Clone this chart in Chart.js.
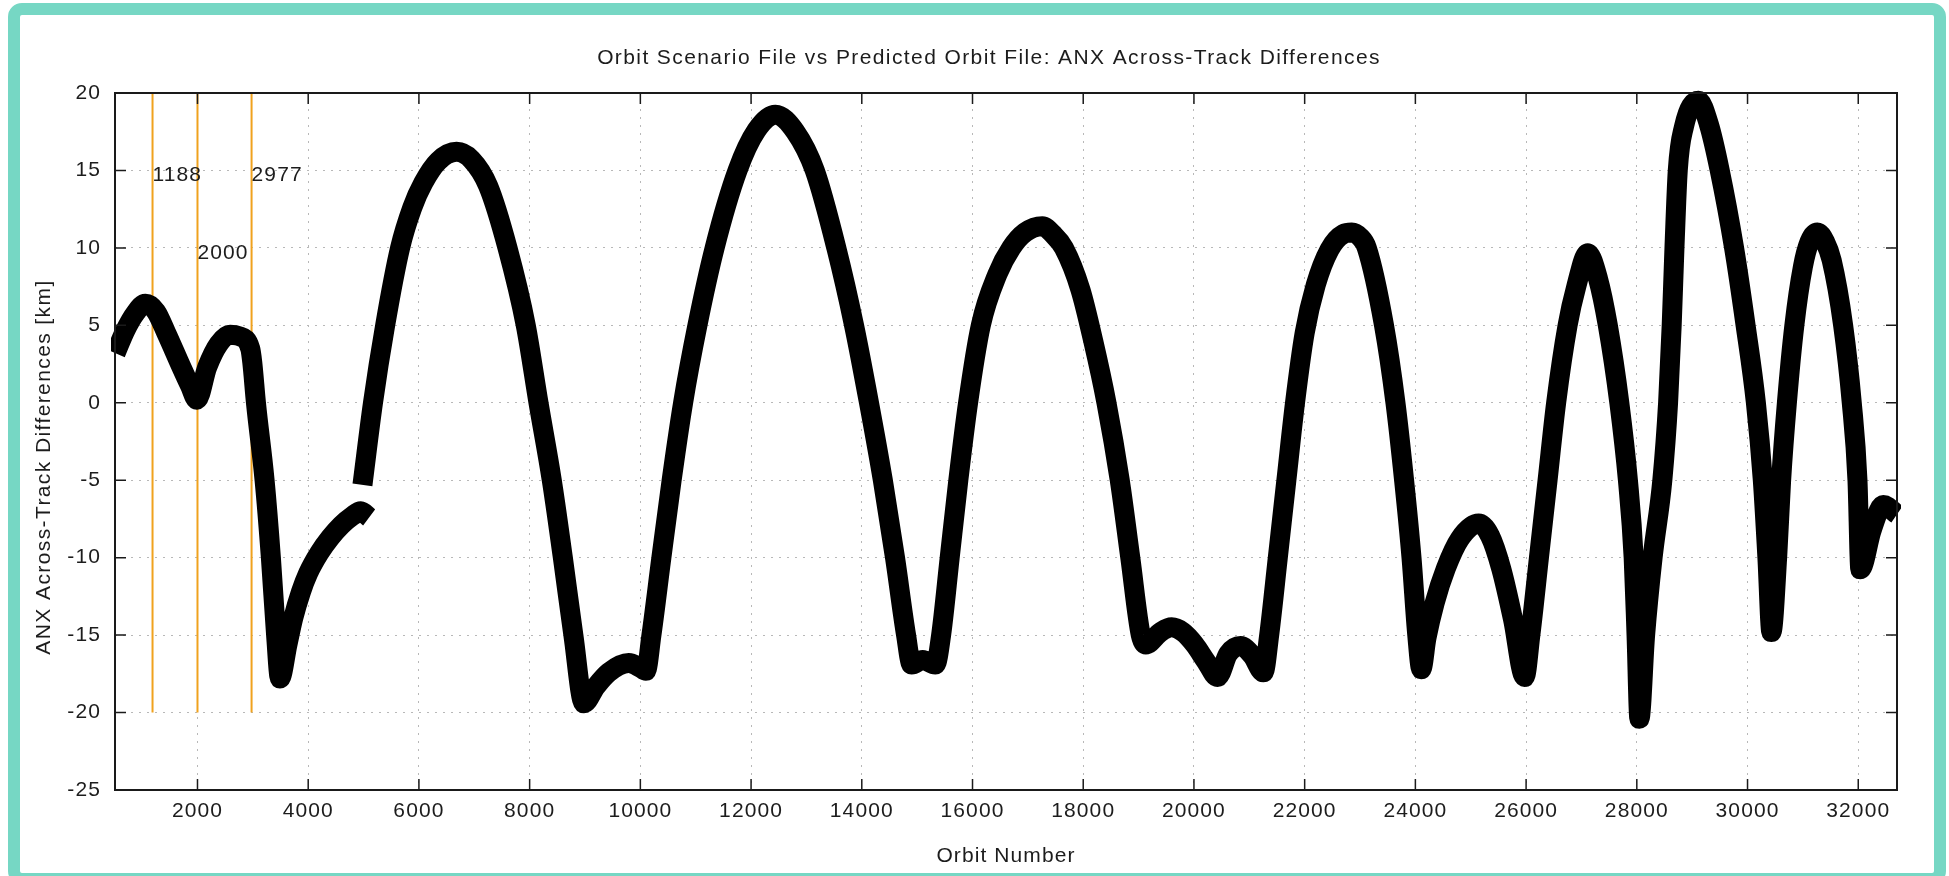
<!DOCTYPE html>
<html>
<head>
<meta charset="utf-8">
<script src="https://cdn.jsdelivr.net/npm/chart.js@4/dist/chart.umd.min.js"></script>
<style>
  html, body { margin: 0; padding: 0; background: #fff; overflow: hidden; }
  #wrap { position: relative; width: 1949px; height: 876px; }
  #frame { position: absolute; left: 8px; top: 3px; width: 1938px; height: 882px; box-sizing: border-box;
           border: 12px solid #76d7c4; border-radius: 14px; pointer-events: none; }
  canvas { position: absolute; left: 0; top: 0; }
</style>
</head>
<body>
<div id="wrap">
  <canvas id="orbit_chart" width="1949" height="876"></canvas>
  <div id="frame"></div>
</div>
<script>
// ===========================================================================
// data

const chartTitle = 'Orbit Scenario File vs Predicted Orbit File: ANX Across-Track Differences';
const xTitle = 'Orbit Number';
const yTitle = 'ANX Across-Track Differences [km]';

const xTickValues = [2000, 4000, 6000, 8000, 10000, 12000, 14000, 16000,
                     18000, 20000, 22000, 24000, 26000, 28000, 30000, 32000];
const yTickValues = [-25, -20, -15, -10, -5, 0, 5, 10, 15, 20];

// vertical markers and the height of their labels
const markerOrbits = [1188, 2000, 2977];
const markerLabelLevels = [15, 10, 15];

// first segment (up to the gap near orbit 5000)
const segAOrbit = [520, 700, 880, 1060, 1250, 1450, 1710, 1865, 1990, 2176, 2383, 2590, 2750,
                   2953, 2990, 3056, 3212, 3326, 3420, 3490, 3626, 3730, 3870, 4000, 4200, 4400,
                   4600, 4800, 4950, 5100];
const segADiff  = [3.2, 4.7, 5.8, 6.4, 5.9, 4.4, 2.3, 1.1, 0.2, 2.3, 3.8, 4.4, 4.3,
                   3.5, 2.6, 0.0, -5.0, -10.0, -15.0, -17.8, -15.6, -13.9, -12.2, -11.0, -9.7, -8.7,
                   -7.9, -7.3, -7.0, -7.4];

// second segment
const segBOrbit = [4980, 5170, 5390, 5660, 5880, 6080, 6350, 6680, 6950, 7250, 7600,
                   7930, 8160, 8400, 8600, 8790, 8980, 9200, 9430, 9790, 10000, 10100, 10200, 10380,
                   10565, 10772, 11031, 11342, 11756, 12100, 12440, 12800, 13150, 13540, 13860, 14130,
                   14380, 14600, 14800, 14900, 15100, 15329, 15433, 15588, 15744, 15920, 16150, 16450,
                   16700, 16950, 17260, 17450, 17650, 17950, 18180, 18420, 18660, 18850, 19040, 19130,
                   19400, 19597, 19800, 20011, 20219, 20426, 20620, 20841, 21050, 21256, 21359, 21515,
                   21670, 21826, 22000, 22200, 22450, 22700, 22850, 23000, 23122, 23433, 23640, 23796,
                   23930, 24034, 24107, 24200, 24350, 24550, 24800, 25144, 25350, 25550, 25765, 25973,
                   26077, 26232, 26388, 26543, 26750, 26906, 27113, 27300, 27476, 27684, 27839, 27943,
                   27995, 28047, 28150, 28285, 28461, 28565, 28630, 28680, 28740, 28850, 29115, 29300,
                   29498, 29757, 29965, 30151, 30276, 30359, 30431, 30535, 30607, 30711, 30846, 31001,
                   31120, 31261, 31400, 31520, 31727, 31883, 31986, 32038, 32245, 32453, 32700];
const segBDiff  = [-5.3, 0.0, 5.0, 10.0, 12.6, 14.2, 15.6, 16.2, 15.7, 14.0, 10.0,
                   5.0, 0.0, -5.0, -10.0, -15.0, -19.4, -18.3, -17.4, -16.8, -17.1, -17.3, -15.0, -10.0,
                   -5.0, 0.0, 5.0, 10.0, 15.0, 17.6, 18.6, 17.5, 15.0, 10.0, 5.0, 0.0,
                   -5.0, -10.0, -15.0, -16.9, -16.6, -16.9, -15.0, -10.0, -5.0, 0.0, 5.0, 8.3,
                   10.0, 11.0, 11.4, 10.9, 10.0, 7.3, 4.0, 0.0, -5.0, -10.0, -15.0, -15.6,
                   -14.8, -14.5, -14.8, -15.6, -16.7, -17.7, -16.2, -15.7, -16.3, -17.4, -15.0, -10.0,
                   -5.0, 0.0, 4.5, 7.6, 9.9, 10.9, 11.0, 10.7, 10.0, 5.0, 0.0, -5.0,
                   -10.0, -15.0, -17.2, -15.2, -12.9, -10.7, -8.8, -7.8, -8.6, -10.7, -14.0, -17.7,
                   -15.0, -10.0, -5.0, 0.0, 5.0, 7.5, 9.65, 8.0, 5.0, 0.0, -5.0, -10.0,
                   -15.0, -20.4, -15.0, -10.0, -5.0, 0.0, 5.0, 10.0, 15.0, 17.8, 19.5, 18.0,
                   15.0, 10.0, 5.0, 0.0, -5.0, -10.0, -14.8, -10.0, -5.0, 0.0, 5.0, 8.8,
                   10.4, 11.0, 10.4, 9.2, 5.0, 0.0, -5.0, -10.75, -8.2, -6.6, -7.2];

// ===========================================================================

const FONT = '"Liberation Sans", Arial, sans-serif';
const textColor = '#1c1c1c';
const markerColor = '#f0a21e';

const toPoints = (xs, ys) => xs.map((v, i) => ({ x: v, y: ys[i] }));

const bandStyle = {
  borderColor: '#000',
  borderWidth: 20,
  borderJoinStyle: 'round',
  borderCapStyle: 'butt',
  cubicInterpolationMode: 'monotone',
  pointRadius: 0,
  clip: 4,
};

const datasets = [
  Object.assign({ data: toPoints(segAOrbit, segADiff) }, bandStyle),
  Object.assign({ data: toPoints(segBOrbit, segBDiff) }, bandStyle),
];
markerOrbits.forEach(o => {
  datasets.push({
    data: [{ x: o, y: -20 }, { x: o, y: 20 }],
    borderColor: markerColor,
    borderWidth: 2,
    pointRadius: 0,
  });
});

//===========================================================================

// gnuplot-like frame, inward mirrored ticks, labels and titles
const gnuplotDecor = {
  id: 'gnuplotDecor',
  beforeDraw(chart) {
    // the reference text is a bit wider than Liberation Sans
    chart.ctx.letterSpacing = '1.1px';
  },
  afterDraw(chart) {
    const { ctx, chartArea: a, scales: { x, y } } = chart;
    ctx.save();
    ctx.strokeStyle = '#1a1a1a';
    ctx.lineWidth = 1.5;
    ctx.beginPath();
    xTickValues.forEach(v => {
      const px = x.getPixelForValue(v);
      ctx.moveTo(px, a.bottom); ctx.lineTo(px, a.bottom - 11);
      ctx.moveTo(px, a.top); ctx.lineTo(px, a.top + 11);
    });
    yTickValues.forEach(v => {
      const py = y.getPixelForValue(v);
      ctx.moveTo(a.left, py); ctx.lineTo(a.left + 11, py);
      ctx.moveTo(a.right, py); ctx.lineTo(a.right - 11, py);
    });
    ctx.stroke();
    ctx.lineWidth = 2;
    ctx.strokeRect(a.left, a.top, a.right - a.left, a.bottom - a.top);

    ctx.fillStyle = textColor;
    ctx.letterSpacing = '1.1px';
    ctx.font = '21px ' + FONT;
    ctx.textBaseline = 'middle';
    ctx.textAlign = 'left';
    markerOrbits.forEach((o, i) => {
      ctx.fillText(String(o), x.getPixelForValue(o), y.getPixelForValue(markerLabelLevels[i]) + 5);
    });

    const cx = (a.left + a.right) / 2;
    ctx.textAlign = 'center';
    ctx.letterSpacing = '1.4px';
    ctx.fillText(chartTitle, cx - 17, 58);
    ctx.letterSpacing = '1.1px';
    ctx.fillText(xTitle, cx, 856);
    ctx.translate(44, 467);
    ctx.rotate(-Math.PI / 2);
    ctx.letterSpacing = '1.4px';
    ctx.fillText(yTitle, 0, 0);
    ctx.restore();
  }
};

const tickFont = { family: FONT, size: 21 };

new Chart(document.getElementById('orbit_chart'), {
  type: 'line',
  data: { datasets: datasets },
  options: {
    responsive: false,
    animation: false,
    devicePixelRatio: 1,
    layout: { padding: { left: 0, top: 93, right: 52, bottom: 36 } },
    plugins: {
      legend: { display: false },
      tooltip: { enabled: false },
      title: { display: false },
    },
    scales: {
      x: {
        type: 'linear',
        min: 510,
        max: 32700,
        afterBuildTicks: (scale) => { scale.ticks = xTickValues.map(v => ({ value: v })); },
        afterFit: (scale) => { scale.height = 50; },
        grid: { color: '#b8b8b8', lineWidth: 1, drawTicks: false },
        border: { display: false, dash: [2, 6] },
        ticks: { font: tickFont, color: textColor, padding: 9, maxRotation: 0, autoSkip: false,
                 callback: (v) => String(v) },
      },
      y: {
        type: 'linear',
        min: -25,
        max: 20,
        afterBuildTicks: (scale) => { scale.ticks = yTickValues.map(v => ({ value: v })); },
        afterFit: (scale) => { scale.width = 115; },
        grid: { color: '#b8b8b8', lineWidth: 1, drawTicks: false },
        border: { display: false, dash: [2, 6] },
        ticks: { font: tickFont, color: textColor, padding: 14, callback: (v) => String(v) },
      },
    },
  },
  plugins: [gnuplotDecor],
});
</script>
</body>
</html>
